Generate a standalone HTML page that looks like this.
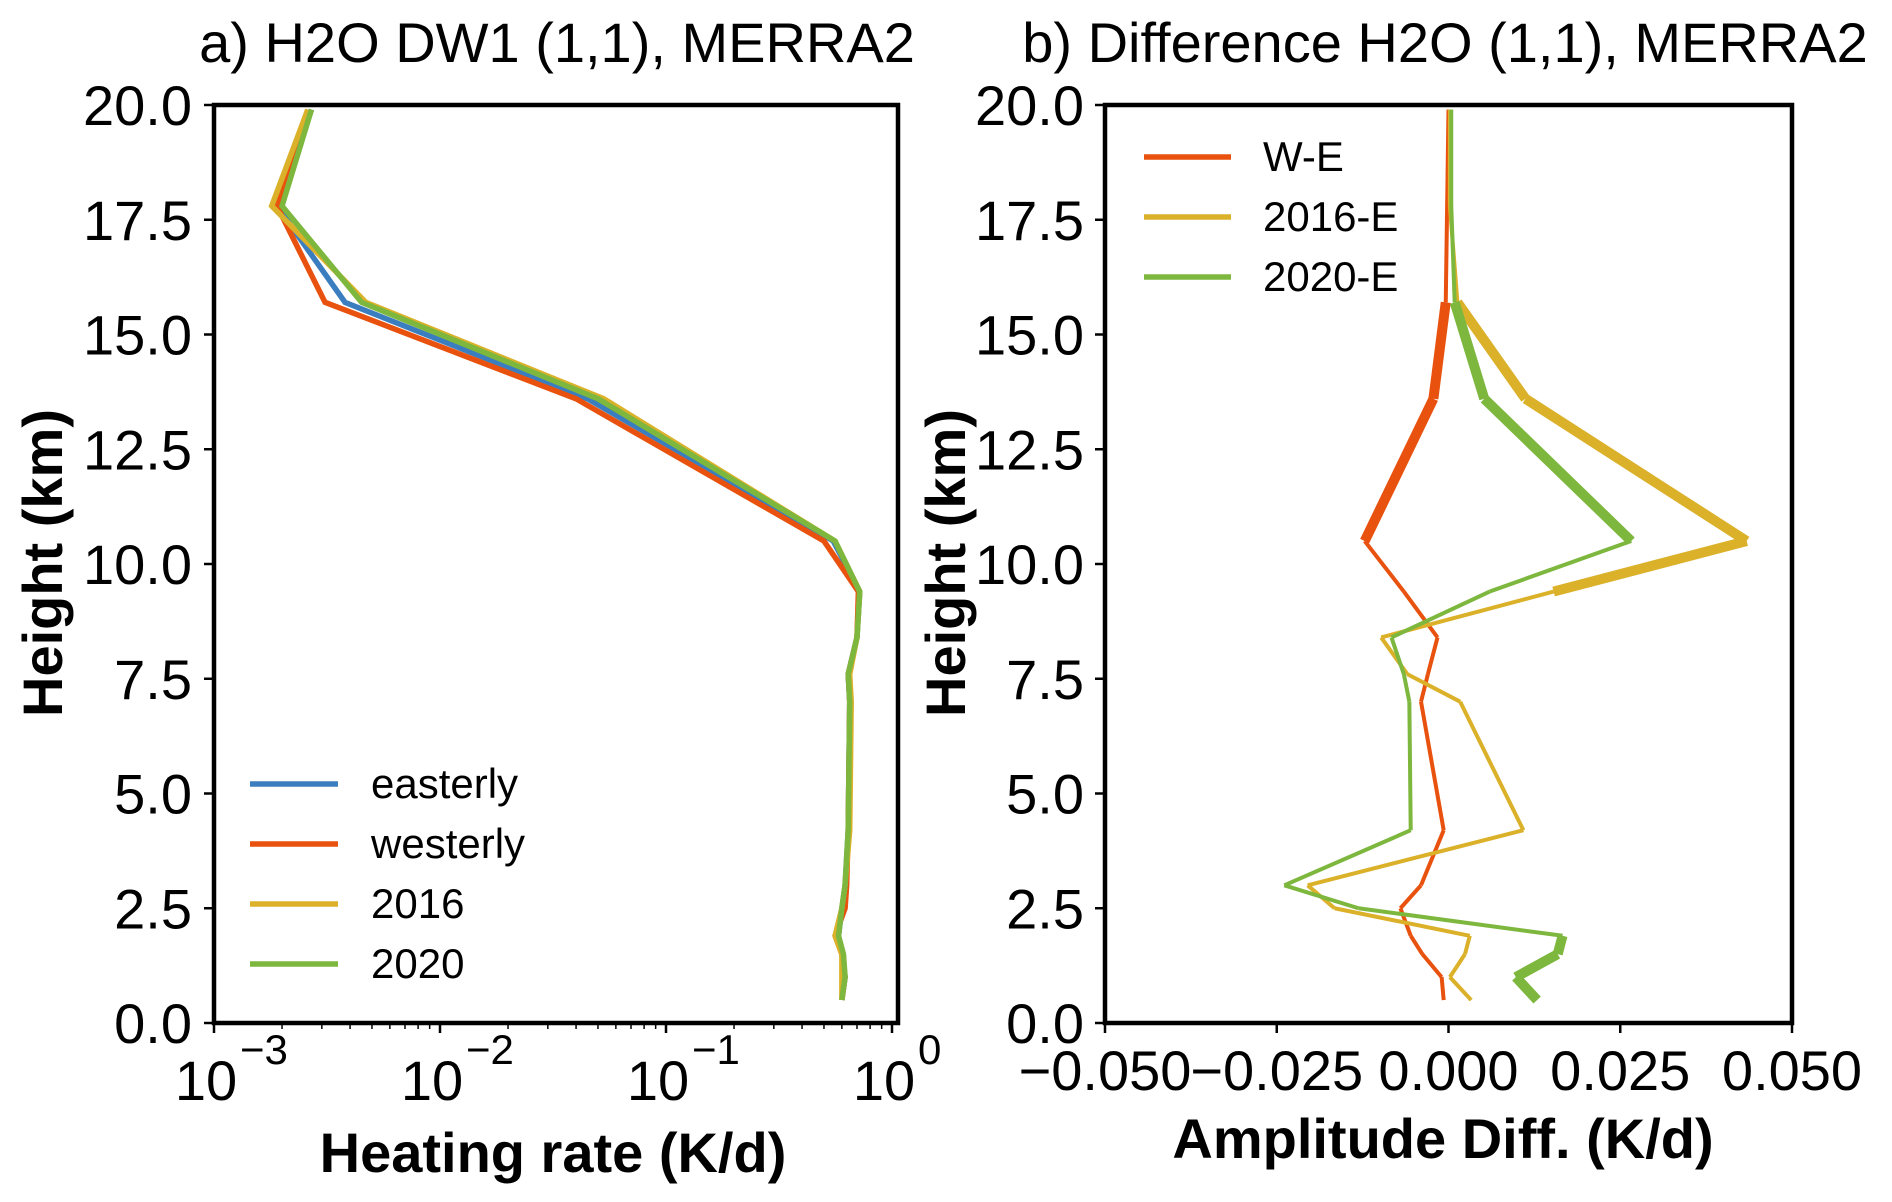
<!DOCTYPE html>
<html><head><meta charset="utf-8"><style>
html,body{margin:0;padding:0;background:#fff}
svg{display:block;font-family:"Liberation Sans",Arial,sans-serif}
</style></head><body>
<svg id="fig" width="1892" height="1202" viewBox="0 0 1892 1202" xmlns="http://www.w3.org/2000/svg"></svg>
<script>
const heights=[0.5,1.0,1.5,1.9,2.5,3.0,4.2,7.0,7.6,8.4,9.4,10.5,13.6,15.7,17.8,19.9];
const easterly=[0.6,0.62,0.6,0.58,0.6,0.62,0.64,0.65,0.64,0.7,0.72,0.55,0.045,0.0038,0.0019,0.0027];
const westerly=[0.6,0.62,0.6,0.56,0.62,0.63,0.64,0.65,0.64,0.7,0.71,0.5,0.04,0.0031,0.0019,0.0026];
const y2016=[0.6,0.6,0.6,0.56,0.6,0.62,0.65,0.66,0.65,0.7,0.72,0.56,0.053,0.0047,0.0018,0.0026];
const y2020=[0.6,0.62,0.61,0.58,0.6,0.62,0.64,0.65,0.64,0.7,0.72,0.56,0.05,0.0045,0.002,0.0027];
const diffWE=[-0.0007,-0.001,-0.0038,-0.0055,-0.007,-0.004,-0.0007,-0.004,-0.003,-0.0016,-0.0065,-0.0122,-0.0022,-0.0004,-0.0002,0];
const diff2016=[0.0033,0.0002,0.0024,0.0031,-0.0166,-0.0205,0.0109,0.0017,-0.006,-0.0098,0.0153,0.0434,0.0112,0.0013,0.0002,0.0002];
const diff2020=[0.0129,0.0098,0.0159,0.0166,-0.0131,-0.0239,-0.0055,-0.0057,-0.0065,-0.0083,0.006,0.0266,0.0052,0.0009,0.0004,0.0004];
const sigWE=[0,0,0,0,0,0,0,0,0,0,0,1,1,1,0,0];
const sig2016=[0,0,0,0,0,0,0,0,0,0,1,1,1,1,0,0];
const sig2020=[1,1,1,1,0,0,0,0,0,0,0,1,1,1,0,0];
const yTicks=[0,2.5,5,7.5,10,12.5,15,17.5,20];
const yTickLabels=["0.0","2.5","5.0","7.5","10.0","12.5","15.0","17.5","20.0"];
const xTicksB=[-0.05,-0.025,0,0.025,0.05];
const xTickLabelsB=["\u22120.050","\u22120.025","0.000","0.025","0.050"];
const decades=[-3,-2,-1,0];

const NS="http://www.w3.org/2000/svg";
const svg=document.getElementById('fig');
function el(tag,attrs,parent,text){const e=document.createElementNS(NS,tag);for(const k in attrs)e.setAttribute(k,attrs[k]);if(text!==undefined)e.textContent=text;(parent||svg).appendChild(e);return e;}
const C={blue:'#3a7ebf',red:'#e8520e',yel:'#dbb12a',grn:'#7db73e'};
const T=105,B=1023;
const TF=56;
const yS=v=>B-(v/20)*(B-T);
const aL=214,aR=898,dec=(892-214)/3;
const xA=v=>aL+(Math.log10(v)+3)*dec;
const xB=v=>1105+(v+0.05)/0.1*(1792-1105);

function grp(name){const g=el('g',{},svg);return g;}
// Panel A
const gA=grp('panel-a');
const clipA=el('clipPath',{id:'ca'},gA);el('rect',{x:aL,y:T,width:aR-aL,height:B-T},clipA);
const seriesA=[[easterly,C.blue,'line-easterly'],[westerly,C.red,'line-westerly'],[y2016,C.yel,'line-2016'],[y2020,C.grn,'line-2020']];
seriesA.forEach(([d,c,n])=>{
  const p=el('polyline',{points:d.map((v,i)=>xA(v)+','+yS(heights[i])).join(' '),fill:'none',stroke:c,'stroke-width':5.5,'clip-path':'url(#ca)'},gA);
  
});
el('rect',{x:aL,y:T,width:aR-aL,height:B-T,fill:'none',stroke:'#000','stroke-width':4.5},gA);
yTicks.forEach((v,i)=>{
  el('line',{x1:aL-10,x2:aL,y1:yS(v),y2:yS(v),stroke:'#000','stroke-width':2.5},gA);
  const t=el('text',{x:192,y:yS(v)+20,'text-anchor':'end','font-size':TF},gA,yTickLabels[i]);
  
});
decades.forEach(d=>{
  const x=xA(Math.pow(10,d));
  el('line',{x1:x,x2:x,y1:B,y2:B+10,stroke:'#000','stroke-width':2.5},gA);
  const t=el('text',{x:x-8,y:1100,'text-anchor':'middle','font-size':TF},gA,'10');
  
  el('text',{x:x+26,y:1064,'text-anchor':'start','font-size':42},gA,d===0?'0':'\u2212'+(-d));
  if(d<0)for(let k=2;k<10;k++){const xm=xA(k*Math.pow(10,d));el('line',{x1:xm,x2:xm,y1:B,y2:B+6,stroke:'#000','stroke-width':1.5},gA);}
});
let t=el('text',{x:557,y:62,'text-anchor':'middle','font-size':56},gA,'a) H2O DW1 (1,1), MERRA2');
t=el('text',{x:553,y:1172,'text-anchor':'middle','font-size':56,'font-weight':'bold'},gA,'Heating rate (K/d)');
t=el('text',{x:0,y:0,'text-anchor':'middle','font-size':56,'font-weight':'bold',transform:'translate(62,563) rotate(-90)'},gA,'Height (km)');
const legA=[['easterly',C.blue],['westerly',C.red],['2016',C.yel],['2020',C.grn]];
legA.forEach(([n,c],i)=>{const y=784+i*60;const g=el('g',{},gA);
  el('line',{x1:250,x2:338,y1:y,y2:y,stroke:c,'stroke-width':5.5},g);el('text',{x:371,y:y+14,'font-size':42},g,n);});

// Panel B
const gB=grp('panel-b');
const seriesB=[[diffWE,sigWE,C.red,'line-w-e'],[diff2016,sig2016,C.yel,'line-2016-e'],[diff2020,sig2020,C.grn,'line-2020-e']];
seriesB.forEach(([d,s,c,n])=>{
  const g=el('g',{},gB);
  for(let i=0;i<d.length-1;i++){
    const w=(s[i]&&s[i+1])?10:4;
    el('line',{x1:xB(d[i]),y1:yS(heights[i]),x2:xB(d[i+1]),y2:yS(heights[i+1]),stroke:c,'stroke-width':w},g);
  }
});
el('rect',{x:1105,y:T,width:687,height:B-T,fill:'none',stroke:'#000','stroke-width':4.5},gB);
yTicks.forEach((v,i)=>{
  el('line',{x1:1095,x2:1105,y1:yS(v),y2:yS(v),stroke:'#000','stroke-width':2.5},gB);
  const t=el('text',{x:1084,y:yS(v)+20,'text-anchor':'end','font-size':TF},gB,yTickLabels[i]);
  
});
xTicksB.forEach((v,i)=>{
  const x=xB(v);el('line',{x1:x,x2:x,y1:B,y2:B+10,stroke:'#000','stroke-width':2.5},gB);
  const t=el('text',{x:x,y:1090,'text-anchor':'middle','font-size':TF},gB,xTickLabelsB[i]);
  
});
t=el('text',{x:1445,y:62,'text-anchor':'middle','font-size':56},gB,'b) Difference H2O (1,1), MERRA2');
t=el('text',{x:1443,y:1158,'text-anchor':'middle','font-size':56,'font-weight':'bold'},gB,'Amplitude Diff. (K/d)');
t=el('text',{x:0,y:0,'text-anchor':'middle','font-size':56,'font-weight':'bold',transform:'translate(965,563) rotate(-90)'},gB,'Height (km)');
const legB=[['W-E',C.red],['2016-E',C.yel],['2020-E',C.grn]];
legB.forEach(([n,c],i)=>{const y=157+i*60;const g=el('g',{},gB);
  el('line',{x1:1144,x2:1231,y1:y,y2:y,stroke:c,'stroke-width':5.5},g);el('text',{x:1263,y:y+14,'font-size':42},g,n);});
</script>
</body></html>
